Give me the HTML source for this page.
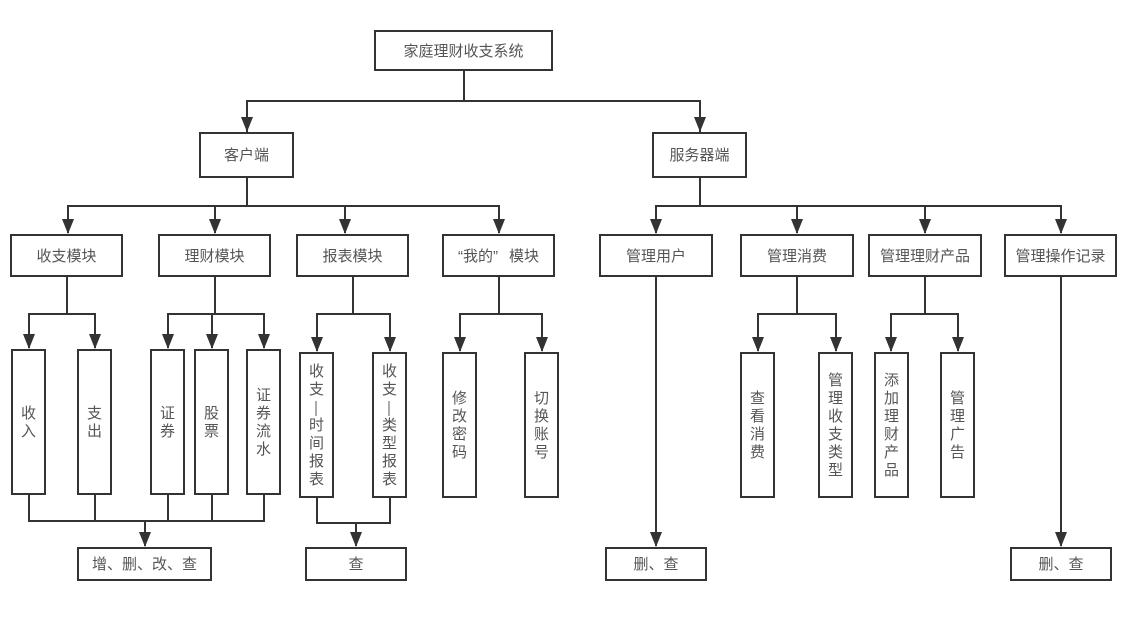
<!DOCTYPE html>
<html lang="zh"><head><meta charset="utf-8"><style>
html,body{margin:0;padding:0;background:#fff}
#c{position:relative;width:1123px;height:627px;overflow:hidden;background:#fff;font-family:"Liberation Sans","WenQuanYi Zen Hei","Noto Sans CJK SC",sans-serif;font-size:15px;color:#555}
svg{position:absolute;left:0;top:0}
.b{position:absolute;box-sizing:border-box;border:2px solid #333;background:#fff;display:flex;align-items:center;justify-content:center;text-align:center;line-height:18px;white-space:nowrap;padding-top:2px}
.v{white-space:normal}
.v span{display:block;width:15px;word-break:break-all}
.v i{display:block;font-style:normal;writing-mode:vertical-rl;width:15px;height:18px;line-height:15px;text-align:center}
</style></head><body><div id="c">
<svg width="1123" height="627" fill="none" stroke="#333" stroke-width="2">
<path d="M464 70V101M247 133V101H700V133"/>
<path d="M247 177V206M68 233V206H499V233M215 206V233M345 206V233"/>
<path d="M700 177V206M656 233V206H1061V233M797 206V233M925 206V233"/>
<path d="M67 276V314M29 348V314H95V348"/>
<path d="M215 276V314M168 348V314H264V348M212 314V348"/>
<path d="M353 276V314M317 351V314H390V351"/>
<path d="M499 276V314M460 351V314H542V351"/>
<path d="M797 276V314M758 351V314H836V351"/>
<path d="M925 276V314M891 351V314H958V351"/>
<path d="M656 276V546M1061 276V546"/>
<path d="M29 494V521H264V494M95 494V521M168 494V521M212 494V521M145 521V546"/>
<path d="M317 497V523H390V497M356 523V546"/>
<g fill="#333" stroke="none">
<path d="M241 117H253L247 132ZM694 117H706L700 132Z"/>
<path d="M62 219H74L68 234ZM209 219H221L215 234ZM339 219H351L345 234ZM493 219H505L499 234Z"/>
<path d="M650 219H662L656 234ZM791 219H803L797 234ZM919 219H931L925 234ZM1055 219H1067L1061 234Z"/>
<path d="M23 334H35L29 349ZM89 334H101L95 349ZM162 334H174L168 349ZM206 334H218L212 349ZM258 334H270L264 349Z"/>
<path d="M311 337H323L317 352ZM384 337H396L390 352ZM454 337H466L460 352ZM536 337H548L542 352ZM752 337H764L758 352ZM830 337H842L836 352ZM885 337H897L891 352ZM952 337H964L958 352Z"/>
<path d="M650 532H662L656 547ZM1055 532H1067L1061 547ZM139 532H151L145 547ZM350 532H362L356 547Z"/>
</g>
</svg>
<div class="b" style="left:374px;top:30px;width:179px;height:41px">家庭理财收支系统</div>
<div class="b" style="left:199px;top:132px;width:95px;height:46px">客户端</div>
<div class="b" style="left:652px;top:132px;width:95px;height:46px">服务器端</div>
<div class="b" style="left:10px;top:234px;width:113px;height:43px">收支模块</div>
<div class="b" style="left:158px;top:234px;width:113px;height:43px">理财模块</div>
<div class="b" style="left:296px;top:234px;width:113px;height:43px">报表模块</div>
<div class="b" style="left:442px;top:234px;width:113px;height:43px"><span style="margin-right:11px">“我的”</span>模块</div>
<div class="b" style="left:599px;top:234px;width:114px;height:43px">管理用户</div>
<div class="b" style="left:740px;top:234px;width:114px;height:43px">管理消费</div>
<div class="b" style="left:868px;top:234px;width:114px;height:43px">管理理财产品</div>
<div class="b" style="left:1004px;top:234px;width:113px;height:43px">管理操作记录</div>
<div class="b v" style="left:11px;top:349px;width:35px;height:146px"><span>收入</span></div>
<div class="b v" style="left:77px;top:349px;width:35px;height:146px"><span>支出</span></div>
<div class="b v" style="left:150px;top:349px;width:35px;height:146px"><span>证券</span></div>
<div class="b v" style="left:194px;top:349px;width:35px;height:146px"><span>股票</span></div>
<div class="b v" style="left:246px;top:349px;width:35px;height:146px"><span>证券流水</span></div>
<div class="b v" style="left:299px;top:352px;width:35px;height:146px"><span>收支<i>—</i>时间报表</span></div>
<div class="b v" style="left:372px;top:352px;width:35px;height:146px"><span>收支<i>—</i>类型报表</span></div>
<div class="b v" style="left:442px;top:352px;width:35px;height:146px"><span>修改密码</span></div>
<div class="b v" style="left:524px;top:352px;width:35px;height:146px"><span>切换账号</span></div>
<div class="b v" style="left:740px;top:352px;width:35px;height:146px"><span>查看消费</span></div>
<div class="b v" style="left:818px;top:352px;width:35px;height:146px"><span>管理收支类型</span></div>
<div class="b v" style="left:874px;top:352px;width:35px;height:146px"><span>添加理财产品</span></div>
<div class="b v" style="left:940px;top:352px;width:35px;height:146px"><span>管理广告</span></div>
<div class="b" style="left:77px;top:547px;width:135px;height:34px">增、删、改、查</div>
<div class="b" style="left:305px;top:547px;width:102px;height:34px">查</div>
<div class="b" style="left:605px;top:547px;width:102px;height:34px">删、查</div>
<div class="b" style="left:1010px;top:547px;width:102px;height:34px">删、查</div>
</div></body></html>
